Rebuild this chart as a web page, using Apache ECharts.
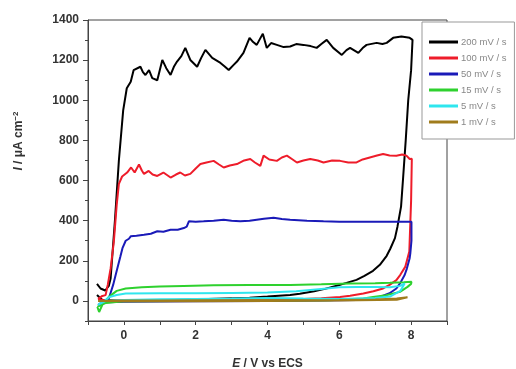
<!DOCTYPE html>
<html>
<head>
<meta charset="utf-8">
<script src="https://cdn.jsdelivr.net/npm/echarts@6/dist/echarts.min.js"></script>
<style>
  html, body { margin: 0; padding: 0; background: #fff; }
  #chart { width: 516px; height: 369px; }
</style>
</head>
<body>
<div id="chart"></div>
<script>
// Cyclic voltammograms at several scan rates: [E (V vs ECS), I (µA cm^-2)]
const scanRates = ['200 mV / s', '100 mV / s', '50 mV / s', '15 mV / s', '5 mV / s', '1 mV / s'];
const lineColors = ['#000000', '#ee1c2a', '#1a1ab8', '#2ed12e', '#2fe6ee', '#a07c1c'];

const cv200 = [
  [-0.75, 85], [-0.65, 62], [-0.52, 52], [-0.42, 75], [-0.37, 112], [-0.25, 400], [-0.14, 700],
  [-0.02, 950], [0.08, 1060], [0.19, 1092], [0.27, 1150], [0.32, 1151], [0.46, 1167], [0.53, 1140],
  [0.60, 1126], [0.70, 1150], [0.79, 1110], [0.93, 1100], [1.07, 1201], [1.18, 1160], [1.30, 1126],
  [1.40, 1170], [1.48, 1193], [1.60, 1220], [1.71, 1261], [1.85, 1201], [2.04, 1167], [2.15, 1210],
  [2.27, 1251], [2.46, 1211], [2.69, 1186], [2.80, 1170], [2.92, 1151], [3.05, 1175], [3.15, 1193],
  [3.33, 1236], [3.50, 1311], [3.60, 1290], [3.70, 1276], [3.87, 1332], [3.98, 1261], [4.10, 1285],
  [4.26, 1276], [4.45, 1265], [4.63, 1268], [4.80, 1280], [5.00, 1276], [5.20, 1270], [5.37, 1261],
  [5.50, 1280], [5.65, 1301], [5.83, 1261], [6.07, 1226], [6.20, 1250], [6.30, 1261], [6.53, 1236],
  [6.65, 1260], [6.76, 1276], [7.04, 1286], [7.20, 1280], [7.32, 1286], [7.50, 1311], [7.73, 1318],
  [7.96, 1311], [8.04, 1301], [8.00, 1150], [7.92, 1000], [7.85, 800], [7.78, 620], [7.72, 470],
  [7.62, 370], [7.55, 313], [7.42, 260], [7.32, 225], [7.13, 180], [6.94, 150], [6.70, 125],
  [6.48, 105], [6.20, 90], [5.93, 76], [5.60, 60], [5.30, 48], [4.90, 36], [4.63, 30], [4.00, 22],
  [3.50, 16], [2.80, 12], [2.13, 8], [1.40, 5], [0.50, 3], [-0.20, 2], [-0.60, 5], [-0.75, 30]
];

const cv100 = [
  [-0.72, 10], [-0.60, 25], [-0.51, 29], [-0.45, 80], [-0.37, 162], [-0.28, 296], [-0.20, 480],
  [-0.14, 583], [-0.05, 620], [0.00, 625], [0.09, 640], [0.20, 665], [0.30, 640], [0.42, 680],
  [0.50, 650], [0.56, 633], [0.69, 648], [0.80, 630], [0.93, 623], [1.10, 640], [1.30, 615],
  [1.45, 630], [1.57, 640], [1.70, 625], [1.85, 633], [2.00, 660], [2.13, 682], [2.30, 690],
  [2.50, 698], [2.65, 680], [2.78, 665], [2.95, 675], [3.15, 682], [3.35, 700], [3.52, 707],
  [3.65, 690], [3.80, 673], [3.89, 724], [4.05, 705], [4.26, 698], [4.40, 715], [4.54, 724],
  [4.70, 705], [4.82, 690], [5.00, 700], [5.19, 707], [5.40, 700], [5.56, 690], [5.80, 700],
  [6.02, 698], [6.25, 690], [6.48, 690], [6.65, 705], [6.85, 715], [7.05, 725], [7.22, 732],
  [7.40, 725], [7.59, 724], [7.75, 730], [7.87, 724], [7.96, 707], [8.02, 709], [8.00, 500],
  [7.95, 246], [7.84, 171], [7.70, 130], [7.59, 104], [7.40, 80], [7.22, 62], [6.95, 48],
  [6.67, 37], [6.30, 26], [6.02, 20], [5.50, 14], [5.00, 10], [4.00, 6], [3.00, 4], [2.00, 2],
  [1.00, 1], [0.00, 0], [-0.50, 2], [-0.72, 10]
];

const cv50 = [
  [-0.72, -20], [-0.60, -5], [-0.42, 12], [-0.30, 80], [-0.23, 129], [-0.10, 220], [-0.04, 263],
  [0.05, 300], [0.14, 310], [0.19, 322], [0.35, 325], [0.56, 330], [0.75, 335], [0.93, 347],
  [1.10, 345], [1.30, 355], [1.50, 355], [1.67, 363], [1.75, 370], [1.81, 397], [2.00, 395],
  [2.22, 397], [2.50, 400], [2.78, 405], [3.00, 400], [3.24, 397], [3.50, 400], [3.70, 405],
  [3.90, 410], [4.17, 414], [4.40, 408], [4.63, 405], [5.10, 400], [5.56, 397], [6.00, 395],
  [6.48, 394], [7.00, 394], [7.41, 394], [7.80, 394], [8.01, 394], [8.01, 300], [7.98, 240],
  [7.96, 213], [7.88, 160], [7.82, 129], [7.70, 90], [7.59, 62], [7.40, 38], [7.13, 20],
  [6.80, 10], [6.48, 5], [5.50, 2], [4.00, 0], [2.00, -2], [0.00, -4], [-0.50, -6], [-0.72, -20]
];

const cv15 = [
  [-0.74, -30], [-0.69, -55], [-0.60, -20], [-0.42, 20], [-0.20, 50], [0.05, 62], [0.50, 68],
  [1.00, 72], [1.66, 75], [2.50, 78], [3.50, 79], [4.63, 80], [5.50, 83], [6.30, 87], [7.00, 88],
  [7.41, 90], [7.80, 93], [8.01, 95], [8.00, 85], [7.90, 70], [7.69, 45], [7.30, 28], [6.94, 20],
  [6.67, 12], [6.20, 8], [5.74, 4], [4.50, 2], [3.00, 1], [1.50, 0], [0.00, -2], [-0.50, -10],
  [-0.74, -30]
];

const cv5 = [
  [-0.72, -20], [-0.55, 0], [-0.40, 20], [-0.20, 30], [0.05, 37], [1.00, 38], [2.00, 38],
  [3.00, 40], [4.00, 42], [4.80, 48], [5.50, 60], [6.00, 68], [6.50, 70], [7.00, 70], [7.41, 68],
  [7.70, 75], [7.82, 87], [7.70, 50], [7.41, 22], [7.00, 15], [6.00, 10], [5.00, 12], [4.00, 15],
  [3.00, 12], [2.00, 10], [1.00, 8], [0.00, 5], [-0.50, 0], [-0.72, -20]
];

const cv1 = [
  [-0.72, 0], [0.00, 2], [1.00, 2], [2.00, 3], [3.00, 3], [4.00, 3], [5.00, 4], [6.00, 5],
  [7.00, 7], [7.60, 12], [7.90, 18], [7.60, 6], [6.00, 2], [4.00, 0], [2.00, -1], [0.00, -2],
  [-0.72, 0]
];

const curves = [cv200, cv100, cv50, cv15, cv5, cv1];

// Axis ticks and labels
const xLabelValues = [0, 2, 4, 6, 8];
const yLabelValues = [0, 200, 400, 600, 800, 1000, 1200, 1400];
const yMinorValues = [-100, 100, 300, 500, 700, 900, 1100, 1300];

const axisColor = '#444';
const labelFont = { fontFamily: 'Liberation Sans', fontWeight: 'bold', fontSize: 12, color: '#333' };
const italicBold = { fontStyle: 'italic', fontWeight: 'bold', fontSize: 12, fontFamily: 'Liberation Sans', color: '#333' };

const chart = echarts.init(document.getElementById('chart'), null, { renderer: 'canvas' });

chart.setOption({
  animation: false,
  backgroundColor: '#fff',
  grid: {
    left: 88, right: 69, top: 20, bottom: 48,
    containLabel: false,
    outerBoundsMode: 'none',
    show: true, borderColor: axisColor, borderWidth: 1, backgroundColor: 'transparent'
  },
  legend: {
    orient: 'vertical',
    left: 422, top: 22,
    padding: [15, 8, 12, 7],
    itemGap: 6,
    icon: 'rect',
    itemWidth: 29, itemHeight: 3,
    backgroundColor: '#fff',
    borderColor: '#999', borderWidth: 1,
    textStyle: { fontFamily: 'Liberation Sans', fontSize: 9.5, color: '#888', padding: [0, 0, 0, -2] },
    data: scanRates
  },
  xAxis: {
    type: 'value',
    min: -1, max: 9, interval: 1,
    name: '{i|E} / V vs ECS',
    nameLocation: 'middle',
    nameGap: 37,
    nameTextStyle: {
      fontFamily: 'Liberation Sans', fontWeight: 'bold', fontSize: 12, color: '#333',
      rich: { i: italicBold }
    },
    axisLine: { show: true, onZero: false, lineStyle: { color: axisColor, width: 1 } },
    axisTick: { show: true, inside: false, length: 4, lineStyle: { color: axisColor } },
    axisLabel: Object.assign({
      margin: 9,
      formatter: v => (xLabelValues.indexOf(v) >= 0 ? String(v) : '')
    }, labelFont),
    splitLine: { show: false }
  },
  yAxis: [
    {
      type: 'value',
      min: -100, max: 1400,
      axisLine: { show: true, onZero: false, lineStyle: { color: axisColor, width: 1 } },
      axisTick: { show: true, inside: false, length: 5, customValues: yLabelValues, lineStyle: { color: axisColor } },
      axisLabel: Object.assign({ margin: 9, customValues: yLabelValues, formatter: v => String(v) }, labelFont),
      splitLine: { show: false }
    },
    {
      // minor ticks between the labelled values
      type: 'value',
      min: -100, max: 1400,
      position: 'left',
      offset: 0,
      axisLine: { show: false, onZero: false },
      axisTick: { show: true, inside: false, length: 3, customValues: yMinorValues, lineStyle: { color: axisColor } },
      axisLabel: { show: false },
      splitLine: { show: false }
    }
  ],
  graphic: [
    {
      type: 'text',
      x: 19, y: 141,
      rotation: Math.PI / 2,
      style: {
        text: '{i|I} / μA cm{sup|−2}',
        align: 'center',
        verticalAlign: 'middle',
        fontFamily: 'Liberation Sans',
        fontWeight: 'bold',
        fontSize: 12,
        fill: '#333',
        rich: {
          i: { fontStyle: 'italic', fontWeight: 'bold', fontSize: 12, fontFamily: 'Liberation Sans', fill: '#333' },
          sup: { fontSize: 8, fontWeight: 'bold', fontFamily: 'Liberation Sans', fill: '#333', padding: [0, 0, 7, 0] }
        }
      }
    }
  ],
  series: curves.map((pts, i) => ({
    name: scanRates[i],
    type: 'line',
    data: pts,
    showSymbol: false,
    symbol: 'none',
    smooth: false,
    clip: true,
    lineStyle: { color: lineColors[i], width: 2 },
    itemStyle: { color: lineColors[i] },
    z: 2
  }))
});
</script>
</body>
</html>
